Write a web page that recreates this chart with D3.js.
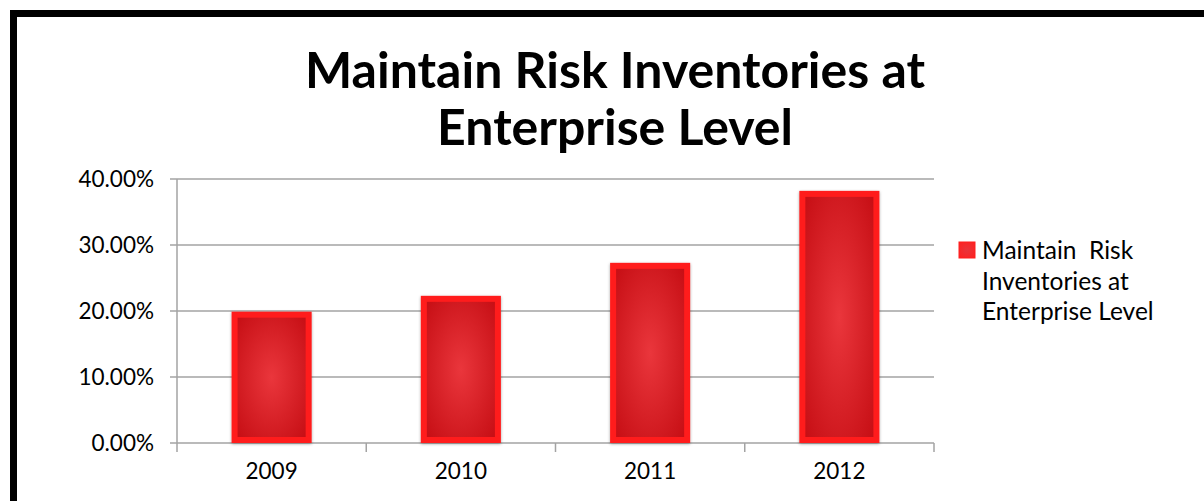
<!DOCTYPE html>
<html><head><meta charset="utf-8">
<script src="https://cdn.jsdelivr.net/npm/d3@7"></script>
<style>
html,body{margin:0;padding:0;background:#fff;}
svg{display:block;font-family:Lato,"Open Sans",sans-serif;}
</style></head>
<body>
<svg id="chart" width="1204" height="501"></svg>
<script>
const categories = ["2009", "2010", "2011", "2012"];
const values = [0.199, 0.223, 0.273, 0.382];
const yTicks = [0, 0.1, 0.2, 0.3, 0.4];
const seriesName = "Maintain  Risk Inventories at Enterprise Level";
const legendLines = ["Maintain  Risk", "Inventories at", "Enterprise Level"];
const titleLines = ["Maintain Risk Inventories at", "Enterprise Level"];

const svg = d3.select("#chart");

// frame
svg.append("rect").attr("x", 0).attr("y", 0).attr("width", 1204).attr("height", 501).attr("fill", "#fff");
svg.append("path").attr("d", "M13.5,505 L13.5,13.5 L1210,13.5")
  .attr("fill", "none").attr("stroke", "#000").attr("stroke-width", 7);

const defs = svg.append("defs");
const rg = defs.append("radialGradient").attr("id", "barGrad")
  .attr("cx", "50%").attr("cy", "50%").attr("r", "75%");
rg.append("stop").attr("offset", "0%").attr("stop-color", "#ea363c");
rg.append("stop").attr("offset", "100%").attr("stop-color", "#c40c12");
const lg = defs.append("radialGradient").attr("id", "legGrad")
  .attr("cx", "50%").attr("cy", "50%").attr("r", "70%");
lg.append("stop").attr("offset", "0%").attr("stop-color", "#e8343a");
lg.append("stop").attr("offset", "100%").attr("stop-color", "#ff2020");
const f = defs.append("filter").attr("id", "shadow").attr("x", "-20%").attr("y", "-20%").attr("width", "140%").attr("height", "140%");
f.append("feDropShadow").attr("dx", 0).attr("dy", 1).attr("stdDeviation", 1.5).attr("flood-color", "#000").attr("flood-opacity", 0.35);

const x = d3.scaleBand().domain(categories).range([177, 934]).paddingInner(0.577).paddingOuter(0.2885);
const y = d3.scaleLinear().domain([0, 0.4]).range([443, 179]);

// gridlines
svg.append("g").selectAll("line").data(yTicks).join("line")
  .attr("x1", 170).attr("x2", 934)
  .attr("y1", d => y(d)).attr("y2", d => y(d))
  .attr("stroke", "#a3a3a3").attr("stroke-width", 1.5);

// y axis line
svg.append("line").attr("x1", 177).attr("x2", 177).attr("y1", y(0.4)).attr("y2", 452)
  .attr("stroke", "#a3a3a3").attr("stroke-width", 1.5);
// category boundary ticks
svg.append("g").selectAll("line").data(d3.range(1, categories.length + 1)).join("line")
  .attr("x1", i => x.range()[0] + i * x.step()).attr("x2", i => x.range()[0] + i * x.step())
  .attr("y1", y(0)).attr("y2", 452)
  .attr("stroke", "#a3a3a3").attr("stroke-width", 1.5);

// y labels
svg.append("g").selectAll("text").data(yTicks).join("text")
  .attr("x", 154).attr("y", d => y(d) + 8)
  .attr("text-anchor", "end").attr("font-size", 22.5).attr("fill", "#000")
  .text(d => d3.format(".2%")(d));

// x labels
svg.append("g").selectAll("text").data(categories).join("text")
  .attr("x", d => x(d) + x.bandwidth() / 2).attr("y", 479)
  .attr("text-anchor", "middle").attr("font-size", 22.5).attr("fill", "#000")
  .text(d => d);

// bars
const bars = svg.append("g").selectAll("g").data(categories).join("g");
bars.append("rect")
  .attr("x", d => x(d)).attr("y", (d, i) => y(values[i]))
  .attr("width", x.bandwidth()).attr("height", (d, i) => y(0) - y(values[i]))
  .attr("fill", "#ff1f1f").attr("filter", "url(#shadow)");
bars.append("rect")
  .attr("x", d => x(d) + 6).attr("y", (d, i) => y(values[i]) + 6)
  .attr("width", x.bandwidth() - 12).attr("height", (d, i) => Math.max(0, y(0) - y(values[i]) - 12))
  .attr("fill", "url(#barGrad)");

// title
svg.append("g").selectAll("text").data(titleLines).join("text")
  .attr("x", 615).attr("y", (d, i) => 88 + i * 57)
  .attr("text-anchor", "middle").attr("font-size", 50).attr("font-weight", "bold").attr("fill", "#000")
  .text(d => d);

// legend
svg.append("rect").attr("x", 959).attr("y", 242).attr("width", 16).attr("height", 16)
  .attr("fill", "url(#legGrad)").attr("stroke", "#ff1f1f").attr("stroke-width", 1);
svg.append("g").selectAll("text").data(legendLines).join("text")
  .attr("x", 982).attr("y", (d, i) => 259 + i * 30.5)
  .attr("font-size", 24.5).attr("fill", "#000")
  .style("white-space", "pre")
  .text(d => d);
</script>
</body></html>
